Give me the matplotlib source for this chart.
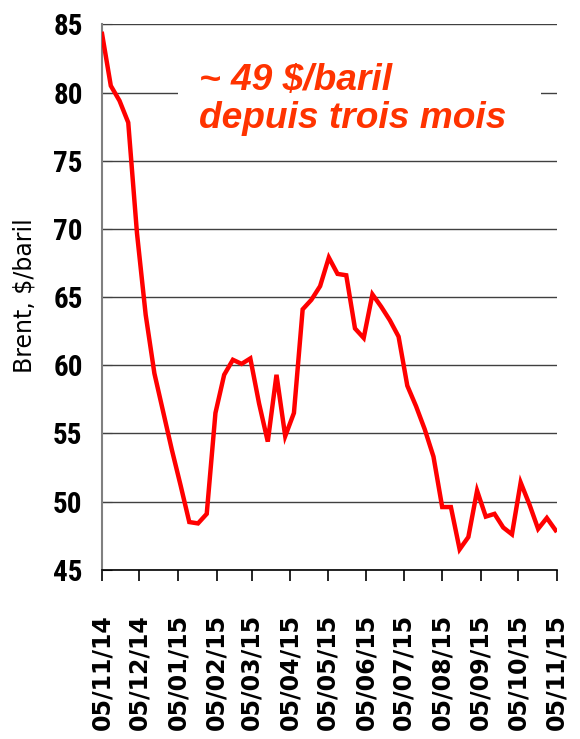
import datetime

import matplotlib
matplotlib.use("Agg")
import matplotlib.pyplot as plt
from matplotlib import font_manager
from matplotlib.patches import Rectangle

# weekly Brent price, $/baril
start = datetime.date(2014, 11, 5)
prices = [
    84.3, 80.5, 79.4, 77.8, 69.7, 63.7, 59.4, 56.6, 53.8, 51.2,
    48.5, 48.4, 49.1, 56.5, 59.3, 60.4, 60.1, 60.5, 57.2, 54.4,
    59.3, 54.8, 56.5, 64.1, 64.8, 65.8, 67.9, 66.7, 66.6, 62.7,
    62.0, 65.2, 64.3, 63.3, 62.1, 58.5, 57.0, 55.3, 53.3, 49.6,
    49.6, 46.5, 47.4, 50.8, 48.9, 49.1, 48.1, 47.6, 51.4, 49.8,
    48.0, 48.8, 47.9,
]
dates = [start + datetime.timedelta(weeks=i) for i in range(len(prices))]

month_ticks = [datetime.date(2014 + (10 + m) // 12, (10 + m) % 12 + 1, 5) for m in range(13)]
tick_labels = [d.strftime("%d/%m/%y") for d in month_ticks]
y_ticks = [45, 50, 55, 60, 65, 70, 75, 80, 85]

note = "~ 49 $/baril\ndepuis trois mois"
ylabel = "Brent, $/baril"

# narrow bold font for the y ticks, if one is around
installed = {f.name for f in font_manager.fontManager.ttflist}
narrow = next((n for n in ["Roboto Condensed", "Archivo Narrow", "PT Sans Narrow"] if n in installed),
              "Liberation Sans")

fig = plt.figure(figsize=(5.8, 7.39), dpi=100)
ax = fig.add_axes([0.176, 0.229, 0.784, 0.738])

ax.plot(dates, prices, color="#ff0000", lw=3.2, solid_joinstyle="miter", zorder=3)

ax.set_xlim(month_ticks[0], month_ticks[-1])
ax.set_ylim(45, 85)
ax.set_yticks(y_ticks)
ax.set_yticklabels([str(v) for v in y_ticks], fontfamily=narrow, fontweight="bold", fontsize=21)
ax.set_xticks(month_ticks)
ax.set_xticklabels(tick_labels, rotation=90,
                   fontfamily="DejaVu Sans", fontweight="bold", fontsize=17)

ax.grid(axis="y", color="#404040", lw=1.0)
ax.set_axisbelow(True)
for side in ["top", "right"]:
    ax.spines[side].set_visible(False)
ax.spines["left"].set_color("#808080")
ax.spines["left"].set_linewidth(1.5)
ax.spines["bottom"].set_color("black")
ax.spines["bottom"].set_linewidth(1.2)
ax.tick_params(axis="y", direction="in", length=7, color="#404040", pad=14)
ax.tick_params(axis="x", direction="out", length=8, width=1.2, pad=24)

# white box behind the note hides the 80 gridline
ax.add_patch(Rectangle((0.166, 0.78), 0.8, 0.15, transform=ax.transAxes,
                       facecolor="white", edgecolor="none", zorder=2))
ax.text(0.214, 0.93, note, transform=ax.transAxes, color="#ff3300",
        fontfamily="Liberation Sans", fontweight="bold", fontstyle="italic",
        fontsize=26.7, va="top", ha="left", linespacing=1.13, zorder=4)

fig.text(0.043, 0.6, ylabel, rotation=90, ha="center", va="center",
         fontfamily="DejaVu Sans", fontsize=17)

fig.savefig("out.png", dpi=100)
